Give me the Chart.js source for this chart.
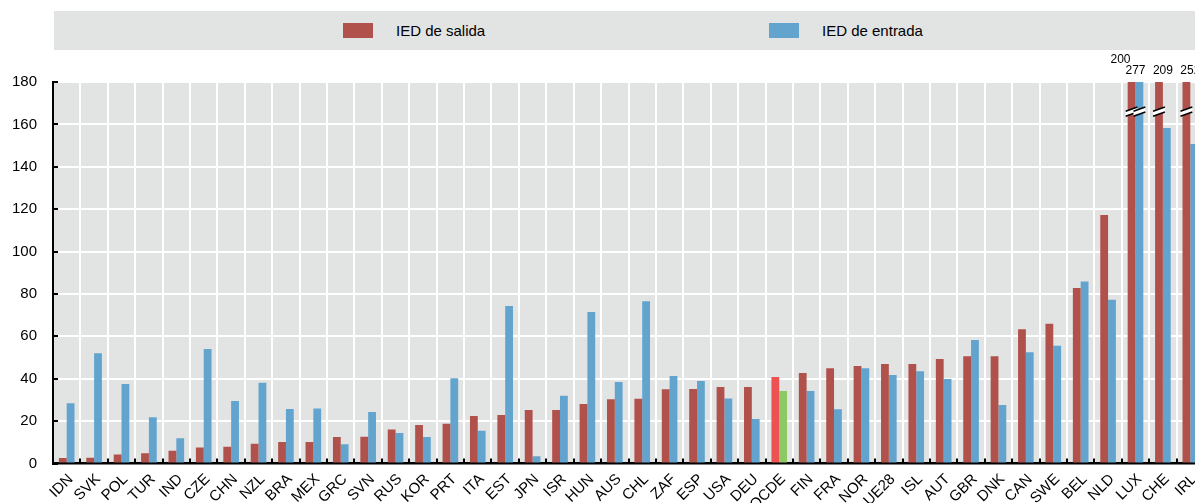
<!DOCTYPE html>
<html>
<head>
<meta charset="utf-8">
<script src="https://cdn.jsdelivr.net/npm/chart.js@4.4.1/dist/chart.umd.min.js"></script>
<style>
  html, body { margin: 0; padding: 0; background: #fff; overflow: hidden; }
  #marco { position: relative; width: 1204px; height: 503px; }
  #leyenda {
    position: absolute; left: 54px; top: 11px; width: 1150px; height: 39px;
    background: #e2e3e3; font: 15px "Liberation Sans", Arial, sans-serif; color: #000;
  }
  .item { position: absolute; top: 0; height: 39px; display: flex; align-items: center; }
  .caja { width: 30px; height: 15px; margin-right: 23px; }
</style>
</head>
<body>
<div id="marco">
  <canvas id="grafico_ied"></canvas>
  <div id="leyenda"></div>
</div>
<script>
// Datos (IED en % del PIB)
const paises = ['IDN', 'SVK', 'POL', 'TUR', 'IND', 'CZE', 'CHN', 'NZL', 'BRA', 'MEX', 'GRC', 'SVN', 'RUS', 'KOR',
    'PRT', 'ITA', 'EST', 'JPN', 'ISR', 'HUN', 'AUS', 'CHL', 'ZAF', 'ESP', 'USA', 'DEU', 'OCDE', 'FIN', 'FRA', 'NOR',
    'UE28', 'ISL', 'AUT', 'GBR', 'DNK', 'CAN', 'SWE', 'BEL', 'NLD', 'LUX', 'CHE', 'IRL'];
const iedSalida = [2.6, 2.7, 4.3, 4.8, 6.0, 7.5, 7.9, 9.3, 10.1, 10.1, 12.5, 12.6, 16.1, 18.2,
    18.8, 22.4, 22.9, 25.2, 25.2, 28.1, 30.3, 30.6, 35.0, 35.1, 36.1, 36.1, 40.8, 42.7, 44.9, 46.0,
    46.9, 46.9, 49.3, 50.6, 50.6, 63.3, 65.9, 82.8, 117.2, 200, 209, 252];
const iedEntrada = [28.4, 52.0, 37.5, 21.8, 11.9, 54.0, 29.5, 38.1, 25.7, 26.0, 9.1, 24.3, 14.4, 12.5,
    40.2, 15.5, 74.3, 3.4, 32.0, 71.5, 38.4, 76.6, 41.3, 38.9, 30.7, 21.0, 34.2, 34.2, 25.6, 45.0,
    41.7, 43.5, 39.9, 58.3, 27.6, 52.5, 55.6, 85.9, 77.3, 277, 158.3, 150.7];
const ejeY = { min: 0, max: 180, paso: 20 };
const valorCorte = 166; // donde se dibuja la marca de corte //

const fuente = '"Liberation Sans", Arial, sans-serif';
const rojo = '#b0524b';
const azul = '#63a4ce';
const destacado = 'OCDE';

//Colores por barra, OCDE resaltado
const coloresSalida = paises.map(p => p === destacado ? '#ee5152' : rojo);
const coloresEntrada = paises.map(p => p === destacado ? '#8cc864' : azul);

// fondo gris del area del grafico
const fondoGris = {
    id: 'fondoGris',
    beforeDraw(chart) {
        const { ctx, chartArea: a } = chart;
        ctx.save();
        ctx.fillStyle = '#e2e3e3';
        ctx.fillRect(a.left, a.top, a.right - a.left, a.bottom - a.top);
        ctx.restore();
    }
};

// marcas de corte y etiquetas para valores fuera de escala
const fueraDeEscala = {
    id: 'fueraDeEscala',
    afterDatasetsDraw(chart) {
        const { ctx, chartArea: a } = chart;
        const y = chart.scales.y;
        const yc = y.getPixelForValue(valorCorte);
        const x = chart.scales.x;
        ctx.save();
        chart.data.datasets.forEach((ds, d) => {
            chart.getDatasetMeta(d).data.forEach((bar, i) => {
                if (ds.data[i] <= ejeY.max) return;
                const l = bar.x - bar.width / 2 - 2, r = bar.x + bar.width / 2 + 2;
                const dy = (r - l) * 0.35;
                ctx.fillStyle = '#fff';
                ctx.beginPath();
                ctx.moveTo(l, yc + dy / 2 - 2.5);
                ctx.lineTo(r, yc - dy / 2 - 2.5);
                ctx.lineTo(r, yc - dy / 2 + 2.5);
                ctx.lineTo(l, yc + dy / 2 + 2.5);
                ctx.closePath();
                ctx.fill();
                ctx.strokeStyle = '#000';
                ctx.lineWidth = 1.6;
                [-2.5, 2.5].forEach(o => {
                    ctx.beginPath();
                    ctx.moveTo(l, yc + dy / 2 + o);
                    ctx.lineTo(r, yc - dy / 2 + o);
                    ctx.stroke();
                });
            });
        });
        ctx.fillStyle = '#000';
        ctx.font = '12px ' + fuente;
        ctx.textAlign = 'center';
        ctx.textBaseline = 'middle';
        paises.forEach((p, i) => {
            const vals = chart.data.datasets.map(ds => ds.data[i]).filter(v => v > ejeY.max);
            const cx = x.getPixelForValue(i);
            vals.forEach((v, k) => {
                const m = vals.length - 1 - k;
                ctx.fillText(String(v), cx - 15 * m, a.top - 11 - 11 * m);
            });
        });
        ctx.restore();
    }
};

const grafico = new Chart(document.querySelector('#grafico_ied'), {
    type: 'bar',
    data: {
        labels: paises,
        datasets: [
            {
                label: 'IED de salida',
                data: iedSalida,
                backgroundColor: coloresSalida,
                clip: 0
            },
            {
                label: 'IED de entrada',
                data: iedEntrada,
                backgroundColor: coloresEntrada,
                clip: 0
            }
        ]
    },
    options: {
        responsive: true,
        maintainAspectRatio: false,
        animation: false,
        layout: { padding: { top: 82, left: 0, right: 0, bottom: 0 } },
        datasets: {
            bar: { categoryPercentage: 0.57, barPercentage: 1.0 }
        },
        plugins: {
            legend: { display: false },
            tooltip: { enabled: false }
        },
        scales: {
            x: {
                grid: {
                    color: '#fff', lineWidth: 2, offset: true,
                    tickColor: '#000', tickWidth: 2, tickLength: -5
                },
                border: { color: '#000', width: 2.5 },
                ticks: {
                    autoSkip: false, minRotation: 45, maxRotation: 45,
                    color: '#000', font: { size: 15, family: fuente },
                    padding: 12, labelOffset: 4
                },
                afterFit: s => {
                    s.height = 39.5;
                    s.paddingRight = 0; // la ultima categoria llega al borde
                }
            },
            y: {
                min: ejeY.min,
                max: ejeY.max,
                grid: {
                    color: '#fff', lineWidth: 2,
                    tickColor: '#000', tickWidth: 2, tickLength: -5
                },
                border: { color: '#000', width: 2 },
                ticks: {
                    stepSize: ejeY.paso,
                    color: '#000', font: { size: 15, family: fuente },
                    padding: 21
                },
                afterFit: s => { s.width = 53; }
            }
        }
    },
    plugins: [fondoGris, fueraDeEscala]
});

// leyenda en la caja gris de arriba
const posLeyenda = [289, 715];
const leyenda = document.querySelector('#leyenda');
grafico.data.datasets.forEach((ds, d) => {
    const item = document.createElement('div');
    item.className = 'item';
    item.style.left = posLeyenda[d] + 'px';
    const caja = document.createElement('span');
    caja.className = 'caja';
    caja.style.background = d === 0 ? rojo : azul;
    const texto = document.createElement('span');
    texto.textContent = ds.label;
    item.appendChild(caja);
    item.appendChild(texto);
    leyenda.appendChild(item);
});
</script>
</body>
</html>
